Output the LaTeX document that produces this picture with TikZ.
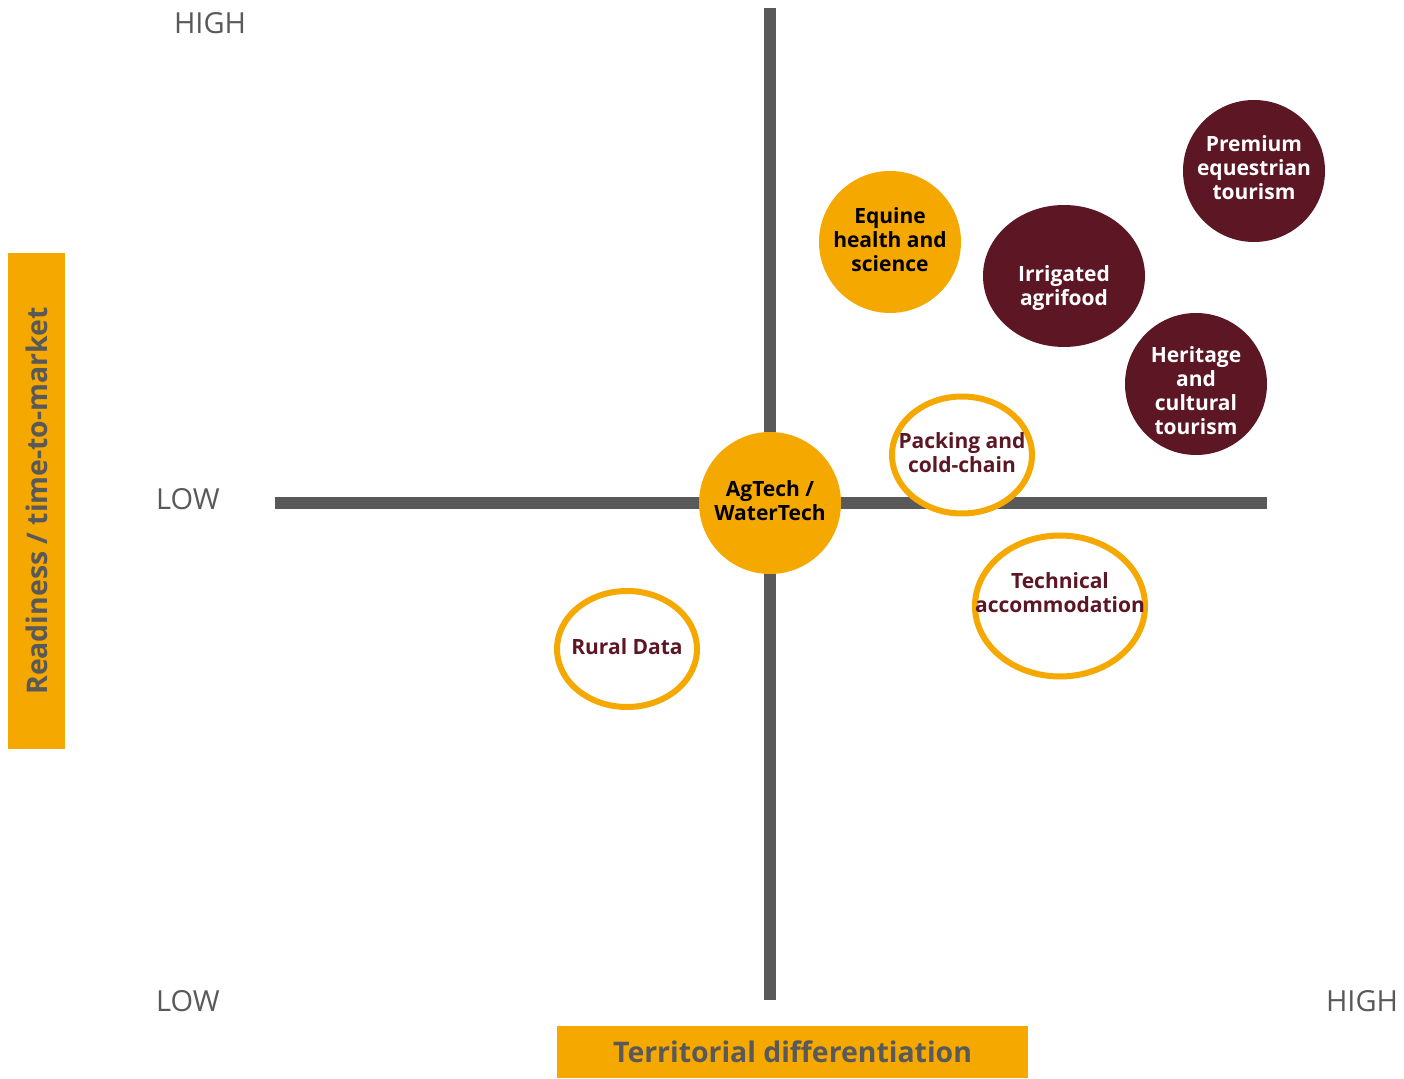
\documentclass[tikz,border=0pt]{standalone}
\usepackage{fontspec}
\setmainfont{Open Sans}
\usetikzlibrary{shapes.geometric,positioning}
\definecolor{amber}{HTML}{F5A800}
\definecolor{wine}{HTML}{5C1624}
\definecolor{slate}{HTML}{595959}
\newcommand{\blobfont}{\fontsize{10.5}{12}\selectfont\bfseries}

\begin{document}
\begin{tikzpicture}[x=0.5pt,y=-0.5pt,
  axis/.style={slate,line width=6pt},
  tick/.style={text=slate,inner sep=0pt,font=\fontsize{14.5}{17}\selectfont},
  axlabel/.style={fill=amber,text=slate,inner sep=0pt,font=\fontsize{14.2}{17}\selectfont\bfseries},
  blob/.style={ellipse,inner sep=0pt},
  txt/.style={align=center,inner sep=0pt,font=\blobfont},
  wineblob/.style 2 args={blob,fill=wine,label={[txt,text=white,yshift=#2]center:#1}},
  amberblob/.style 2 args={blob,fill=amber,label={[txt,text=black,yshift=#2]center:#1}},
  ringblob/.style 2 args={blob,draw=amber,line width=3pt,fill=white,label={[txt,text=wine,yshift=#2]center:#1}}]
\useasboundingbox[fill=white] (0,0) rectangle (1404,1079);

% axes
\coordinate (ytop) at (770,8);
\coordinate (ybot) at (770,1000);
\coordinate (xleft) at (275,503);
\coordinate (xright) at (1267,503);
\draw[axis] (ytop) -- (ybot);
\draw[axis] (xleft) -- (xright);

\node[tick] (hightop) at (210,23) {HIGH};
\node[tick] (lowmid) at (188,499) {LOW};
\node[tick] (lowbot) at (188,1001) {LOW};
\node[tick] (highright) at (1362,1001) {HIGH};

\node[axlabel,rotate=90,minimum width=248pt,minimum height=28.5pt] (ylab) at (36.5,501) {Readiness / time-to-market};
\node[axlabel,minimum width=235.5pt,minimum height=26pt] (xlab) at (792.5,1052) {Territorial differentiation};

% clusters
\node[wineblob={Premium\\equestrian\\tourism}{1.5pt},minimum size=71pt] (premium) at (1254,171) {};
\node[wineblob={Irrigated\\agrifood}{-6pt},minimum width=81pt,minimum height=71pt] (irrigated) at (1064,276) {};
\node[wineblob={Heritage\\and\\cultural\\tourism}{-3.5pt},minimum size=71pt] (heritage) at (1196,384) {};
\node[amberblob={Equine\\health and\\science}{1pt},minimum size=71pt] (equine) at (890,242) {};
\node[ringblob={Packing and\\cold-chain}{1pt},minimum width=70pt,minimum height=58.5pt] (packing) at (962,455) {};
\node[amberblob={AgTech /\\WaterTech}{1pt},minimum size=71pt] (agtech) at (770,503) {};
\node[ringblob={Technical\\accommodation}{6.5pt},minimum width=85pt,minimum height=70.5pt] (technical) at (1060,606) {};
\node[ringblob={Rural Data}{1pt},minimum width=70pt,minimum height=58pt] (rural) at (627,649) {};
\end{tikzpicture}
\end{document}
